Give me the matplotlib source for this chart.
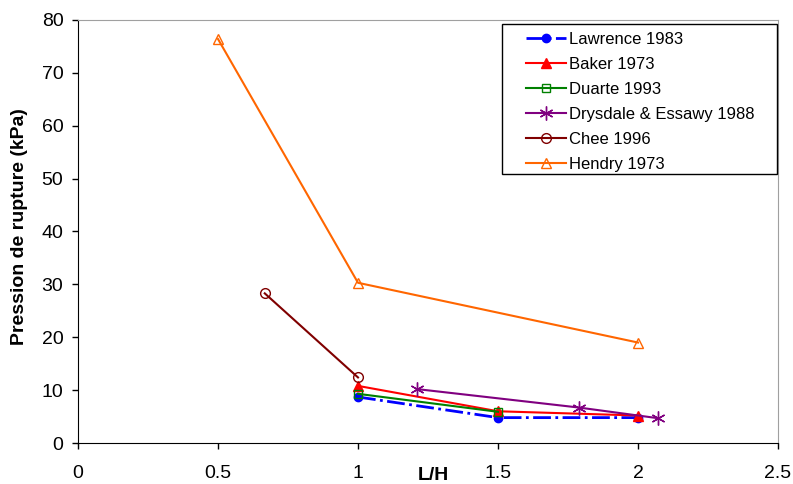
import matplotlib
matplotlib.use("Agg")
import matplotlib.pyplot as plt
from matplotlib.patches import Rectangle

plt.rcParams['font.family'] = ['Liberation Sans', 'DejaVu Sans']

# data
lawrence_x = [1.0, 1.5, 2.0]
lawrence_y = [8.7, 4.8, 4.8]
baker_x = [1.0, 1.5, 2.0]
baker_y = [10.8, 6.0, 5.2]
duarte_x = [1.0, 1.5]
duarte_y = [9.3, 5.9]
drysdale_x = [1.21, 1.79, 2.07]
drysdale_y = [10.2, 6.7, 4.7]
chee_x = [0.667, 1.0]
chee_y = [28.3, 12.4]
hendry_x = [0.5, 1.0, 2.0]
hendry_y = [76.4, 30.3, 19.0]

fig = plt.figure(figsize=(7.93, 4.84), dpi=100)
ax = fig.add_axes([78/793, 41/484, 700/793, 423/484])

ax.plot(lawrence_x, lawrence_y, color='#0000FF', linestyle='-.', linewidth=2,
        marker='o', markersize=6, label='Lawrence 1983')
ax.plot(baker_x, baker_y, color='#FF0000', linewidth=1.5,
        marker='^', markersize=7, label='Baker 1973')
ax.plot(duarte_x, duarte_y, color='#008000', linewidth=1.5,
        marker='s', markersize=6, markerfacecolor='none', label='Duarte 1993')
ax.plot(drysdale_x, drysdale_y, color='#800080', linewidth=1.5,
        marker=(6, 2, 0), markersize=10, label='Drysdale & Essawy 1988')
ax.plot(chee_x, chee_y, color='#800000', linewidth=1.5,
        marker='o', markersize=7, markerfacecolor='none', label='Chee 1996')
ax.plot(hendry_x, hendry_y, color='#FF6600', linewidth=1.5,
        marker='^', markersize=7, markerfacecolor='none', label='Hendry 1973')

ax.set_xlim(0, 2.5)
ax.set_ylim(0, 80)
ax.set_xticks([0, 0.5, 1, 1.5, 2, 2.5])
ax.set_xticklabels(['0', '0.5', '1', '1.5', '2', '2.5'])
ax.set_yticks(range(0, 81, 10))
ax.tick_params(direction='out', length=4.5, width=1, labelsize=14)
ax.tick_params(axis='y', pad=6)
ax.tick_params(axis='x', pad=11)

ax.spines['top'].set_color('#A0A0A0')
ax.spines['right'].set_color('#A0A0A0')
ax.spines['left'].set_color('black')
ax.spines['bottom'].set_color('black')

fig.text(20/793, 1 - 227/484, 'Pression de rupture (kPa)', fontsize=14,
         fontweight='bold', rotation=90, ha='center', va='center')
fig.text(433/793, 1 - 475/484, 'L/H', fontsize=14, fontweight='bold',
         ha='center', va='center')

# legend box drawn by hand, entries placed inside it
box = Rectangle((502/793, 1 - 174/484), 275/793, 150/484, transform=fig.transFigure,
                facecolor='white', edgecolor='black', linewidth=1, zorder=5)
fig.patches.append(box)
leg = fig.legend(*ax.get_legend_handles_labels(), loc='upper left',
                 bbox_to_anchor=(514/793, 1 - 20/484), fontsize=12,
                 frameon=False, handlelength=2.4, borderpad=0.2,
                 labelspacing=0.6, handletextpad=0.2)
leg.set_zorder(6)

fig.savefig('out.png', dpi=100)
